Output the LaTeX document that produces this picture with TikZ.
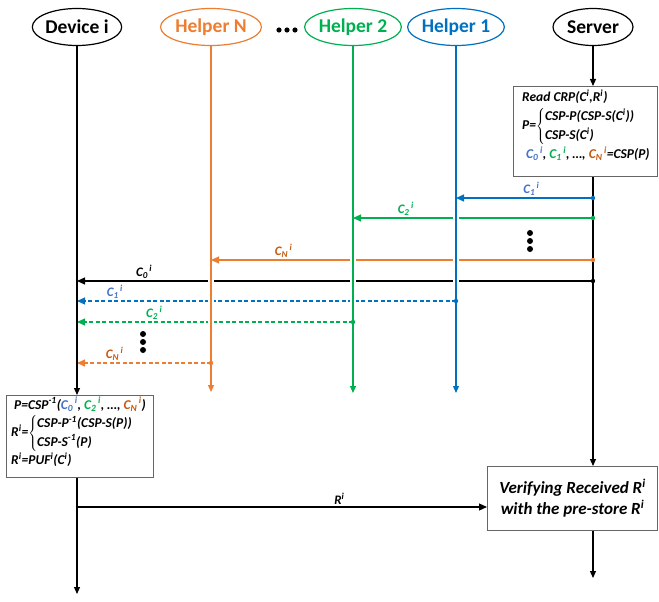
\documentclass[tikz,border=0pt]{standalone}
\usepackage{fontspec}
\setmainfont{Carlito}
\usetikzlibrary{arrows.meta,shapes.geometric}
\definecolor{cOr}{HTML}{ED7D31}
\definecolor{cGr}{HTML}{00B050}
\definecolor{cBl}{HTML}{0070C0}
\definecolor{tBl}{HTML}{4472C4}
\definecolor{tOr}{HTML}{C55A11}
% challenge symbol C_k^i
\newcommand\Ck[1]{C\textsubscript{#1}\textsuperscript{\,i}}
\newcommand\upi[1]{\textsuperscript{#1}}
\tikzset{
  actor/.style={ellipse, draw, line width=1.2pt, minimum width=80pt, minimum height=37pt,
    inner sep=0pt, font=\fontsize{19.5}{19.5}\selectfont\bfseries},
  life/.style={line width=1.2pt, -{Triangle[length=7pt,width=6pt]}},
  msg/.style={line width=1.2pt, -{Triangle[length=8pt,width=7pt]}},
  dmsg/.style={msg, dash pattern=on 4pt off 2.5pt},
  lbl/.style={above=-1pt, font=\fontsize{13}{13}\selectfont\bfseries\itshape},
  procbox/.style={draw=black!60, line width=1pt, fill=white, anchor=north west, inner sep=0pt},
  proctext/.style={anchor=north west, inner sep=0pt},
  gap/.style={white, line width=6pt},
}
\begin{document}
\begin{tikzpicture}[x=1pt,y=-1pt]
\useasboundingbox (0,0) rectangle (659,602);

% actors
\node[actor] (dev) at (77,27) {Device i};
\node[actor, cOr, minimum width=88pt] (hN) at (211,27) {Helper N};
\node[actor, cGr] (h2) at (353,27) {Helper 2};
\node[actor, cBl, minimum width=82pt] (h1) at (456,27) {Helper 1};
\node[actor] (srv) at (593,27) {Server};
\foreach \x in {279,287,295} \fill (\x,30) circle (2.6pt);

% server computation
\node[procbox, minimum width=144pt, minimum height=90pt] (sbox) at (513,86) {};
\node[proctext, font=\fontsize{13.5}{19}\selectfont\bfseries\itshape] (stxt) at (522,88) {\begin{tabular}{@{}l@{}}
  Read CRP(C\upi{i},R\upi{i})\\
  P=$\left\{\begin{tabular}{@{}l@{}}CSP-P(CSP-S(C\upi{i}))\\ CSP-S(C\upi{i})\end{tabular}\right.$\\
  \hspace{4pt}\textcolor{tBl}{\Ck{0}}, \textcolor{cGr}{\Ck{1}}, …, \textcolor{tOr}{\Ck{N}}=CSP(P)
  \end{tabular}};

% device computation
\node[procbox, minimum width=147pt, minimum height=82pt] (dbox) at (6,395) {};
\node[proctext, font=\fontsize{13.5}{18.5}\selectfont\bfseries\itshape] (dtxt) at (11,396) {\begin{tabular}{@{}l@{}}
  \hspace{3pt}P=CSP\upi{-1}(\textcolor{tBl}{\Ck{0}}, \textcolor{cGr}{\Ck{2}}, …, \textcolor{tOr}{\Ck{N}})\\
  R\upi{i}=$\left\{\begin{tabular}{@{}l@{}}CSP-P\upi{-1}(CSP-S(P))\\ CSP-S\upi{-1}(P)\end{tabular}\right.$\\
  R\upi{i}=PUF\upi{i}(C\upi{i})
  \end{tabular}};

% verification
\node[procbox, minimum width=170pt, minimum height=64pt, align=center,
  font=\fontsize{17}{21}\selectfont\bfseries\itshape] (vbox) at (487,466)
  {Verifying Received R\upi{i}\\with the pre-store R\upi{i}};

% lifeline end points
\coordinate (devEnd) at (77,594);
\coordinate (hNEnd) at (211,392);
\coordinate (h2End) at (353,393);
\coordinate (h1End) at (456,393);
\coordinate (srvEnd) at (593,578);

% messages server -> helpers / device
\draw[msg, cBl] (srv |- 0,198) -- node[lbl, text=tBl, pos=0.45] {\Ck{1}} (h1 |- 0,198);
\draw[msg, cGr] (srv |- 0,218) -- node[lbl, pos=0.78] {\Ck{2}} (h2 |- 0,218);
\draw[msg, cOr] (srv |- 0,260) -- node[lbl, text=tOr, pos=0.81] {\Ck{N}} (hN |- 0,260);
\draw[msg] (srv |- 0,281) -- node[lbl, pos=0.87] {\Ck{0}} (dev |- 0,281);
% helpers -> device
\draw[dmsg, cBl] (h1 |- 0,301) -- node[lbl, text=tBl, pos=0.9] {\Ck{1}} (dev |- 0,301);
\draw[dmsg, cGr] (h2 |- 0,322) -- node[lbl, pos=0.72] {\Ck{2}} (dev |- 0,322);
\draw[dmsg, cOr] (hN |- 0,363) -- node[lbl, text=tOr, pos=0.72] {\Ck{N}} (dev |- 0,363);
% device -> server
\draw[msg] (dev |- 0,507) -- node[lbl, pos=0.64] {R\upi{i}} (vbox.west |- 0,507);

% vertical ellipses
\foreach \y in {233,241,249} \fill (530,\y) circle (3pt);
\foreach \y in {334,342,350} \fill (143,\y) circle (3pt);

% line gaps at crossings
\foreach \n/\y in {h1/218, h1/260, h2/260, h1/281, h2/281, hN/281, h2/301, hN/301, hN/322}
  \draw[gap] ([yshift=-1.6pt]\n |- 0,\y) -- ([yshift=1.6pt]\n |- 0,\y);

% lifelines
\draw[life] (dev.south) -- (dev |- dbox.north);
\draw[life] (dev |- dbox.south) -- (devEnd);
\draw[life, cOr] (hN.south) -- (hNEnd);
\draw[life, cGr] (h2.south) -- (h2End);
\draw[life, cBl] (h1.south) -- (h1End);
\draw[life] (srv.south) -- (srv |- sbox.north);
\draw[life] (srv |- sbox.south) -- (srv |- vbox.north);
\draw[life] (srv |- vbox.south) -- (srvEnd);

% message origins
\fill[cBl] (srv |- 0,198) circle (2.2pt);
\fill[cGr] (srv |- 0,218) circle (2.2pt);
\fill[cOr] (srv |- 0,260) circle (2.2pt);
\fill (srv |- 0,281) circle (2.2pt);
\fill[cBl] (h1 |- 0,301) circle (2.2pt);
\fill[cGr] (h2 |- 0,322) circle (2.2pt);
\fill[cOr] (hN |- 0,363) circle (2.2pt);
\end{tikzpicture}
\end{document}
